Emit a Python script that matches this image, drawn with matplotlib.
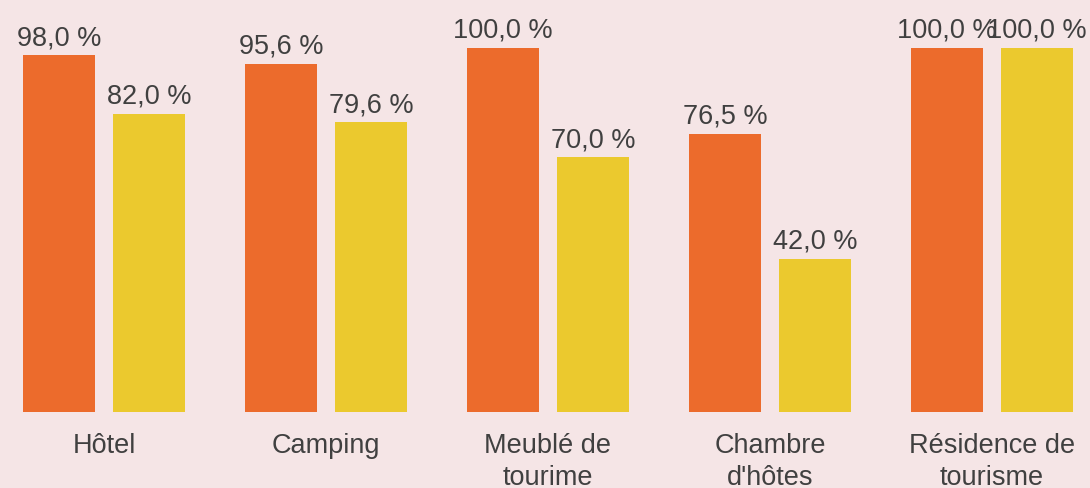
import matplotlib.pyplot as plt
import numpy as np

categories = ['Hôtel', 'Camping', 'Meublé de\ntourime', "Chambre\nd'hôtes", 'Résidence de\ntourisme']
serie_a = [98.0, 95.6, 100.0, 76.5, 100.0]
serie_b = [82.0, 79.6, 70.0, 42.0, 100.0]

bg = '#F5E5E6'
orange = '#EC6B2C'
jaune = '#EBC92E'
txt = '#404040'

plt.rcParams['font.family'] = ['Liberation Sans', 'DejaVu Sans']

fig = plt.figure(figsize=(10.9, 4.88), dpi=100, facecolor=bg)
ax = fig.add_axes([0, 76 / 488, 1, 412 / 488])
ax.set_facecolor(bg)

x = np.arange(len(categories))
w = 72 / 222
off = 45 / 222
b1 = ax.bar(x - off, serie_a, w, color=orange)
b2 = ax.bar(x + off, serie_b, w, color=jaune)

fmt = lambda v: f'{v:.1f}'.replace('.', ',') + ' %'
for bars in (b1, b2):
    ax.bar_label(bars, labels=[fmt(v) for v in bars.datavalues], padding=3,
                 fontsize=19.5, color=txt)

ax.set_xlim(-104 / 222, (1090 - 104) / 222)
ax.set_ylim(0, 100 * 412 / 364)
ax.set_xticks(x)
ax.set_xticklabels(categories, fontsize=19.5, color=txt, linespacing=1.3)
ax.tick_params(axis='x', length=0, pad=15)
ax.set_yticks([])
for s in ax.spines.values():
    s.set_visible(False)

fig.savefig('out.png', dpi=100, facecolor=bg)
